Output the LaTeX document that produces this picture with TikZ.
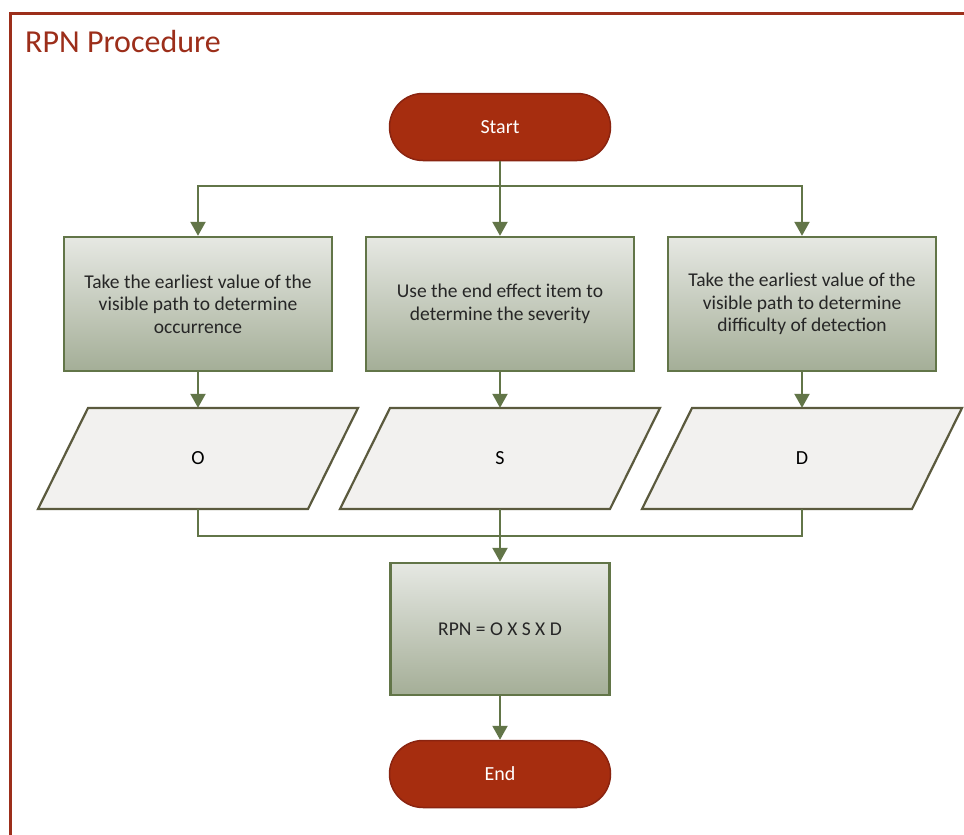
\documentclass[tikz,border=0pt]{standalone}
\usepackage{fontspec}
\setmainfont{Carlito}
\usetikzlibrary{arrows.meta}

\definecolor{rpnred}{HTML}{A62D0F}
\definecolor{rpnredline}{HTML}{8A2410}
\definecolor{framered}{HTML}{9C2E1A}
\definecolor{flowgreen}{HTML}{627548}
\definecolor{boxtop}{HTML}{E6E8E3}
\definecolor{boxbot}{HTML}{A4AE97}
\definecolor{dataline}{HTML}{5B5A3E}
\definecolor{datafill}{HTML}{F2F1EF}

\begin{document}
\begin{tikzpicture}[x=1pt,y=-1pt,
    terminal/.style={rectangle, rounded corners=33.5pt, fill=rpnred, draw=rpnredline,
        line width=1.5pt, minimum width=221pt, minimum height=67pt, text=white,
        font=\fontsize{20}{24}\selectfont},
    process/.style={rectangle, draw=flowgreen, line width=2.4pt, top color=boxtop,
        bottom color=boxbot, minimum width=268pt, minimum height=134pt, align=center,
        text=black!85, font=\fontsize{19.5}{22.5}\selectfont},
    data/.style={draw=dataline, fill=datafill, line width=2.2pt, line join=miter},
    datatext/.style={rectangle, minimum width=270pt, minimum height=101pt, inner sep=0pt,
        text=black, font=\fontsize{20}{24}\selectfont},
    flow/.style={draw=flowgreen, line width=2.2pt, -{Triangle[length=14pt,width=15pt]}},
    mergeline/.style={draw=flowgreen, line width=1.6pt},
]
\useasboundingbox (0,0) rectangle (964,835);
\fill[white] (0,0) rectangle (964,835);

% frame and heading
\draw[framered, line width=3pt] (10,835) -- (10,13) -- (964,13);
\node[framered, anchor=base west, inner sep=0pt, font=\fontsize{32}{36}\selectfont] (title) at (25,52) {RPN Procedure};

% terminals
\node[terminal] (start) at (500,127) {Start};
\node[terminal] (end) at (500,774) {End};

% the three rating steps
\node[process] (occ) at (198,304) {Take the earliest value of the\\visible path to determine\\occurrence};
\node[process] (sev) at (500,304) {Use the end effect item to\\determine the severity};
\node[process] (det) at (802,304) {Take the earliest value of the\\visible path to determine\\difficulty of detection};

% ratings: parallelograms leaning right, 50pt offset
\foreach \name/\cx/\txt in {o/198/O, s/500/S, d/802/D} {
    \draw[data] (\cx-110,408) -- (\cx+160,408) -- (\cx+110,509) -- (\cx-160,509) -- cycle;
    \node[datatext] (\name) at (\cx,458.5) {\txt};
}

\node[process, minimum width=219pt, minimum height=132pt] (rpn) at (500,629) {RPN = O X S X D};

% connectors
\coordinate (split) at (500,186);
\coordinate (merge) at (500,536);

\draw[flow] (start) -- (sev);
\draw[flow] (split) -| (occ);
\draw[flow] (split) -| (det);

\draw[flow] (occ) -- (o);
\draw[flow] (sev) -- (s);
\draw[flow] (det) -- (d);

\draw[mergeline] (o.south) |- (merge);
\draw[mergeline] (d.south) |- (merge);
\draw[flow] (s) -- (rpn);
\draw[flow] (rpn) -- (end);

\end{tikzpicture}
\end{document}
